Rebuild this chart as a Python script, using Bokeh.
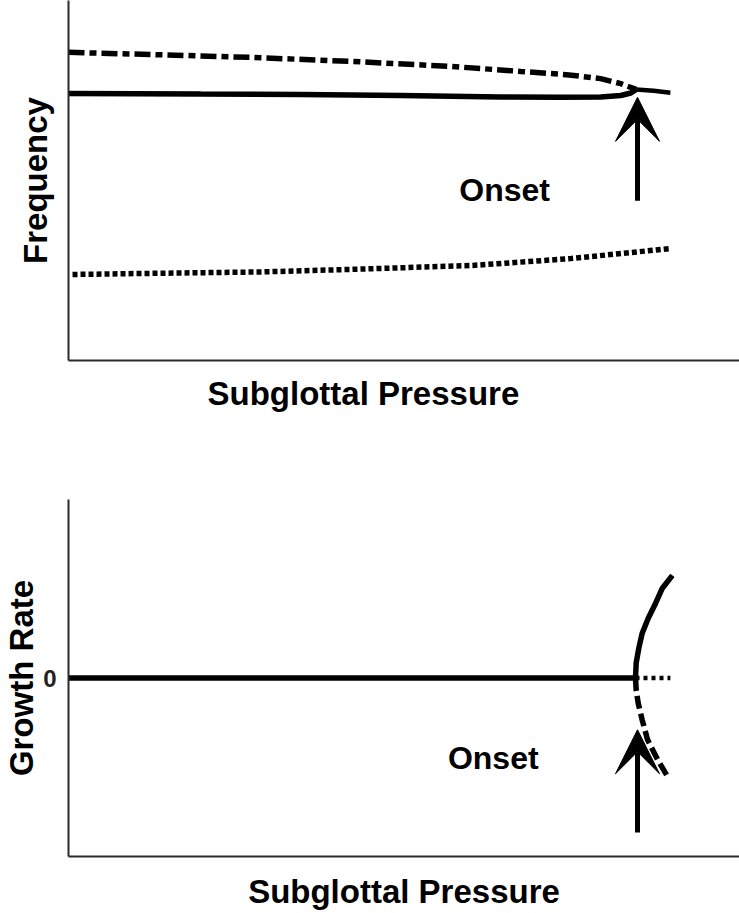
from bokeh.plotting import figure
from bokeh.models import Range1d, FixedTicker, Arrow, VeeHead, Title, Label
from bokeh.layouts import column
from bokeh.embed import file_html
from bokeh.resources import INLINE

# ---------------- data (arbitrary units) ----------------
# Top panel: frequency vs subglottal pressure
freq_low_x = [0, 19.7, 34.6, 49.5, 64.4, 73.3, 79.3, 82.3, 83.8, 84.6]
freq_low_y = [74.2, 74.0, 73.9, 73.6, 73.2, 73.1, 73.2, 73.6, 74.3, 75.3]
freq_after_x = [84.6, 87.2, 89.7]
freq_after_y = [75.3, 74.9, 74.4]
freq_high_x = [0, 12.2, 27.1, 42.0, 56.9, 67.4, 74.2, 79.3, 82.3, 84.6]
freq_high_y = [85.6, 85.0, 84.2, 83.1, 81.7, 80.3, 79.4, 78.3, 76.9, 75.3]
freq_third_x = [0.6, 12.2, 28.6, 42.0, 60.2, 74.8, 89.7]
freq_third_y = [23.9, 24.2, 24.6, 25.3, 26.4, 28.3, 31.1]

# Bottom panel: growth rate vs subglottal pressure
growth_zero_x = [0, 84.5]
growth_zero_y = [0, 0]
growth_after_x = [84.5, 89.7]
growth_after_y = [0, 0]
growth_up_x = [84.5, 84.6, 85.0, 85.5, 86.4, 87.5, 88.5, 90.0]
growth_up_y = [0, 0.084, 0.168, 0.251, 0.335, 0.419, 0.503, 0.575]
growth_down_x = [84.5, 84.6, 84.9, 85.5, 86.3, 87.8, 89.4]
growth_down_y = [0, -0.067, -0.14, -0.235, -0.346, -0.458, -0.559]

onset_x = 84.8
top_arrow_y = [44.4, 73.1]
bottom_arrow_y = [-0.866, -0.29]
y_ticks_bottom = [0]

FONT = "Liberation Sans"
AXIS_COLOR = "#2a2a2a"
LW = 5.5


def style(p):
    p.outline_line_color = None
    p.xgrid.visible = False
    p.ygrid.visible = False
    p.background_fill_color = "white"
    p.border_fill_color = "white"
    for ax in (p.xaxis, p.yaxis):
        ax.axis_line_width = 2
        ax.axis_line_color = AXIS_COLOR
        ax.major_tick_out = 0
        ax.major_tick_in = 0
        ax.minor_tick_out = 0
        ax.minor_tick_in = 0
        ax.major_label_standoff = 0
        ax.axis_label_text_font = FONT
        ax.axis_label_text_font_style = "bold"
        ax.axis_label_text_font_size = "33px"
        ax.axis_label_text_color = "black"
        ax.major_label_text_font = FONT
        ax.major_label_text_font_style = "bold"
        ax.major_label_text_color = "#222222"


# ---------------- top panel ----------------
p1 = figure(width=739, height=445, x_range=Range1d(0, 100), y_range=Range1d(0, 100),
            output_backend="svg", toolbar_location=None,
            min_border_left=68, min_border_right=0, min_border_top=0, min_border_bottom=85)
style(p1)
p1.xaxis.ticker = FixedTicker(ticks=[])
p1.yaxis.ticker = FixedTicker(ticks=[])
p1.yaxis.axis_label = "Frequency"
p1.yaxis.axis_label_standoff = 15

p1.line(freq_high_x, freq_high_y, line_width=LW, color="black", line_dash="16 5 7 5")
p1.line(freq_low_x, freq_low_y, line_width=LW, color="black")
p1.line(freq_after_x, freq_after_y, line_width=4.5, color="black")
p1.line(freq_third_x, freq_third_y, line_width=LW, color="black", line_dash="5 3")

p1.add_layout(Arrow(end=VeeHead(size=44, fill_color="black", line_color="black", line_width=1),
                    x_start=onset_x, y_start=top_arrow_y[0], x_end=onset_x, y_end=top_arrow_y[1],
                    line_width=5, line_color="black"))
p1.add_layout(Label(x=65.0, y=47.5, text="Onset", text_align="center", text_baseline="middle",
                    text_font=FONT, text_font_style="bold", text_font_size="32px", text_color="black"))
p1.add_layout(Title(text="Subglottal Pressure", align="left", offset=139, standoff=24,
                    text_font=FONT, text_font_style="bold", text_font_size="33px",
                    text_color="black"), "below")

# ---------------- bottom panel ----------------
p2 = figure(width=739, height=467, x_range=Range1d(0, 100), y_range=Range1d(-1, 1),
            output_backend="svg", toolbar_location=None,
            min_border_left=68, min_border_right=0, min_border_top=54, min_border_bottom=55)
style(p2)
p2.xaxis.ticker = FixedTicker(ticks=[])
p2.xaxis.axis_label = "Subglottal Pressure"
p2.xaxis.axis_label_standoff = 16
p2.yaxis.ticker = FixedTicker(ticks=y_ticks_bottom)
p2.yaxis.major_label_text_font_size = "24px"
p2.yaxis.major_label_standoff = 12
p2.yaxis.axis_label = "Growth Rate"
p2.yaxis.axis_label_standoff = 0

p2.line(growth_zero_x, growth_zero_y, line_width=LW, color="black")
p2.line(growth_after_x, growth_after_y, line_width=4.5, color="black", line_dash="4 4")
p2.line(growth_up_x, growth_up_y, line_width=LW, color="black")
p2.line(growth_down_x, growth_down_y, line_width=LW, color="black", line_dash="13 5")

p2.add_layout(Arrow(end=VeeHead(size=44, fill_color="black", line_color="black", line_width=1),
                    x_start=onset_x, y_start=bottom_arrow_y[0], x_end=onset_x, y_end=bottom_arrow_y[1],
                    line_width=5, line_color="black"))
p2.add_layout(Label(x=63.3, y=-0.447, text="Onset", text_align="center", text_baseline="middle",
                    text_font=FONT, text_font_style="bold", text_font_size="32px", text_color="black"))

layout = column(p1, p2, spacing=0)
open("out.html", "w").write(file_html(layout, INLINE))
